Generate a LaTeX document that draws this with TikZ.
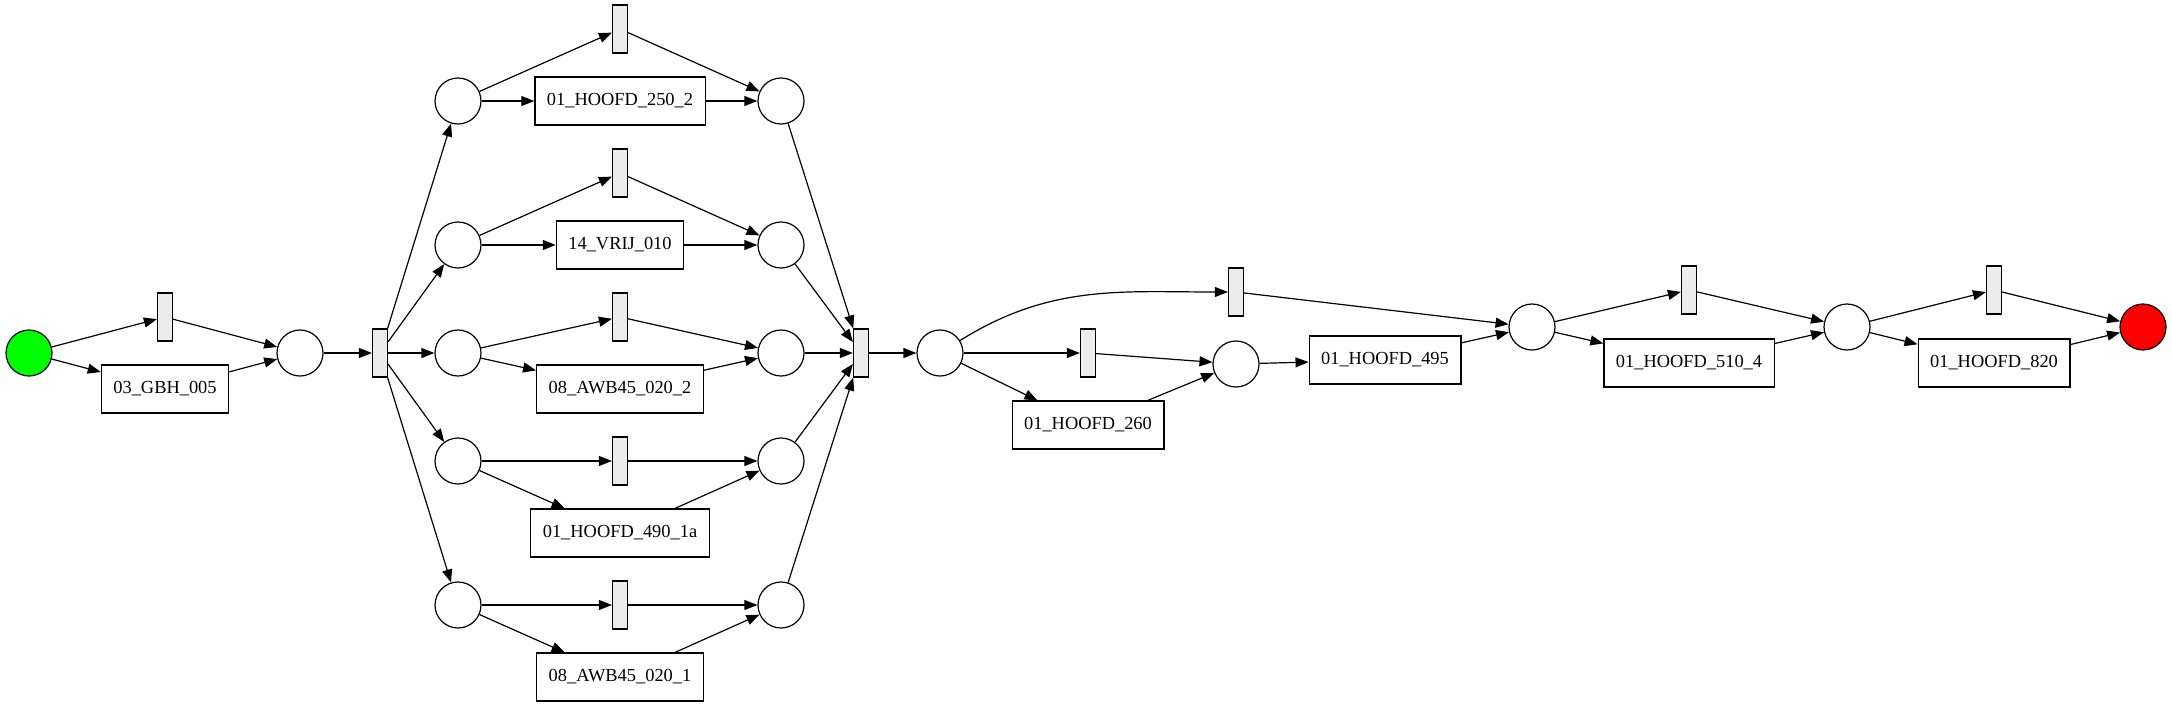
\documentclass[tikz,border=0pt]{standalone}
\usepackage{fontspec}
\setmainfont{Liberation Serif}
\usetikzlibrary{arrows.meta}

\begin{document}
\begin{tikzpicture}[x=0.5pt,y=0.5pt,
  pl/.style={draw,circle,minimum size=23pt,inner sep=0pt,line width=0.6pt},
  tr/.style={draw,minimum width=7.5pt,minimum height=24pt,inner sep=0pt,fill=gray!15,line width=0.6pt},
  act/.style={draw,minimum height=24pt,inner xsep=6pt,inner ysep=0pt,line width=0.6pt,
    font=\fontsize{9.2}{11}\selectfont},
  arc/.style={-{Triangle[length=6.5pt,width=5pt]},line width=0.6pt}]
 \useasboundingbox (0,0) rectangle (2172,-707);
 % start
 \node[pl,fill=green] (start) at (29,-353) {};
 \node[tr] (t0) at (165,-317) {};
 \node[act] (gbh) at (165,-389) {03\_GBH\_005};
 \node[pl] (p0) at (300,-353) {};
 \node[tr] (fork) at (380,-353) {};
 % parallel branches
 \node[pl] (a1) at (458,-101) {};
 \node[tr] (ta) at (620,-29) {};
 \node[act] (h250) at (620,-101) {01\_HOOFD\_250\_2};
 \node[pl] (a2) at (781,-101) {};
 \node[pl] (b1) at (458,-245) {};
 \node[tr] (tb) at (620,-173) {};
 \node[act] (vrij) at (620,-245) {14\_VRIJ\_010};
 \node[pl] (b2) at (781,-245) {};
 \node[pl] (c1) at (458,-353) {};
 \node[tr] (tc) at (620,-317) {};
 \node[act] (awb2) at (620,-389) {08\_AWB45\_020\_2};
 \node[pl] (c2) at (781,-353) {};
 \node[pl] (d1) at (458,-461) {};
 \node[tr] (td) at (620,-461) {};
 \node[act] (h490) at (620,-533) {01\_HOOFD\_490\_1a};
 \node[pl] (d2) at (781,-461) {};
 \node[pl] (e1) at (458,-605) {};
 \node[tr] (te) at (620,-605) {};
 \node[act] (awb1) at (620,-677) {08\_AWB45\_020\_1};
 \node[pl] (e2) at (781,-605) {};
 \node[tr] (join) at (861,-353) {};
 % tail
 \node[pl] (p1) at (940,-353) {};
 \node[tr] (tf) at (1236,-292) {};
 \node[tr] (tg) at (1088,-353) {};
 \node[act] (h260) at (1088,-425) {01\_HOOFD\_260};
 \node[pl] (p2) at (1236,-364) {};
 \node[act] (h495) at (1385,-360) {01\_HOOFD\_495};
 \node[pl] (p3) at (1532,-327) {};
 \node[tr] (th) at (1689,-290) {};
 \node[act] (h510) at (1689,-363) {01\_HOOFD\_510\_4};
 \node[pl] (p4) at (1847,-327) {};
 \node[tr] (ti) at (1994,-290) {};
 \node[act] (h820) at (1994,-363) {01\_HOOFD\_820};
 \node[pl,fill=red] (end) at (2143,-327) {};
 % arcs
 \draw[arc] (start) -- (t0);
 \draw[arc] (start) -- (gbh);
 \draw[arc] (t0) -- (p0);
 \draw[arc] (gbh) -- (p0);
 \draw[arc] (p0) -- (fork);
 \draw[arc] (fork) -- (a1);
 \draw[arc] (fork) -- (b1);
 \draw[arc] (fork) -- (c1);
 \draw[arc] (fork) -- (d1);
 \draw[arc] (fork) -- (e1);
 \draw[arc] (a1) -- (ta);  \draw[arc] (a1) -- (h250);
 \draw[arc] (ta) -- (a2);  \draw[arc] (h250) -- (a2);
 \draw[arc] (b1) -- (tb);  \draw[arc] (b1) -- (vrij);
 \draw[arc] (tb) -- (b2);  \draw[arc] (vrij) -- (b2);
 \draw[arc] (c1) -- (tc);  \draw[arc] (c1) -- (awb2);
 \draw[arc] (tc) -- (c2);  \draw[arc] (awb2) -- (c2);
 \draw[arc] (d1) -- (td);  \draw[arc] (d1) -- (h490);
 \draw[arc] (td) -- (d2);  \draw[arc] (h490) -- (d2);
 \draw[arc] (e1) -- (te);  \draw[arc] (e1) -- (awb1);
 \draw[arc] (te) -- (e2);  \draw[arc] (awb1) -- (e2);
 \draw[arc] (a2) -- (join);
 \draw[arc] (b2) -- (join);
 \draw[arc] (c2) -- (join);
 \draw[arc] (d2) -- (join);
 \draw[arc] (e2) -- (join);
 \draw[arc] (join) -- (p1);
 \draw[arc] (p1) to[out=32,in=180] (tf);
 \draw[arc] (p1) -- (tg);
 \draw[arc] (p1) -- (h260);
 \draw[arc] (tg) -- (p2);
 \draw[arc] (h260) -- (p2);
 \draw[arc] (tf) -- (p3);
 \draw[arc] (p2) -- (h495);
 \draw[arc] (h495) -- (p3);
 \draw[arc] (p3) -- (th);  \draw[arc] (p3) -- (h510);
 \draw[arc] (th) -- (p4);  \draw[arc] (h510) -- (p4);
 \draw[arc] (p4) -- (ti);  \draw[arc] (p4) -- (h820);
 \draw[arc] (ti) -- (end); \draw[arc] (h820) -- (end);
\end{tikzpicture}
\end{document}
